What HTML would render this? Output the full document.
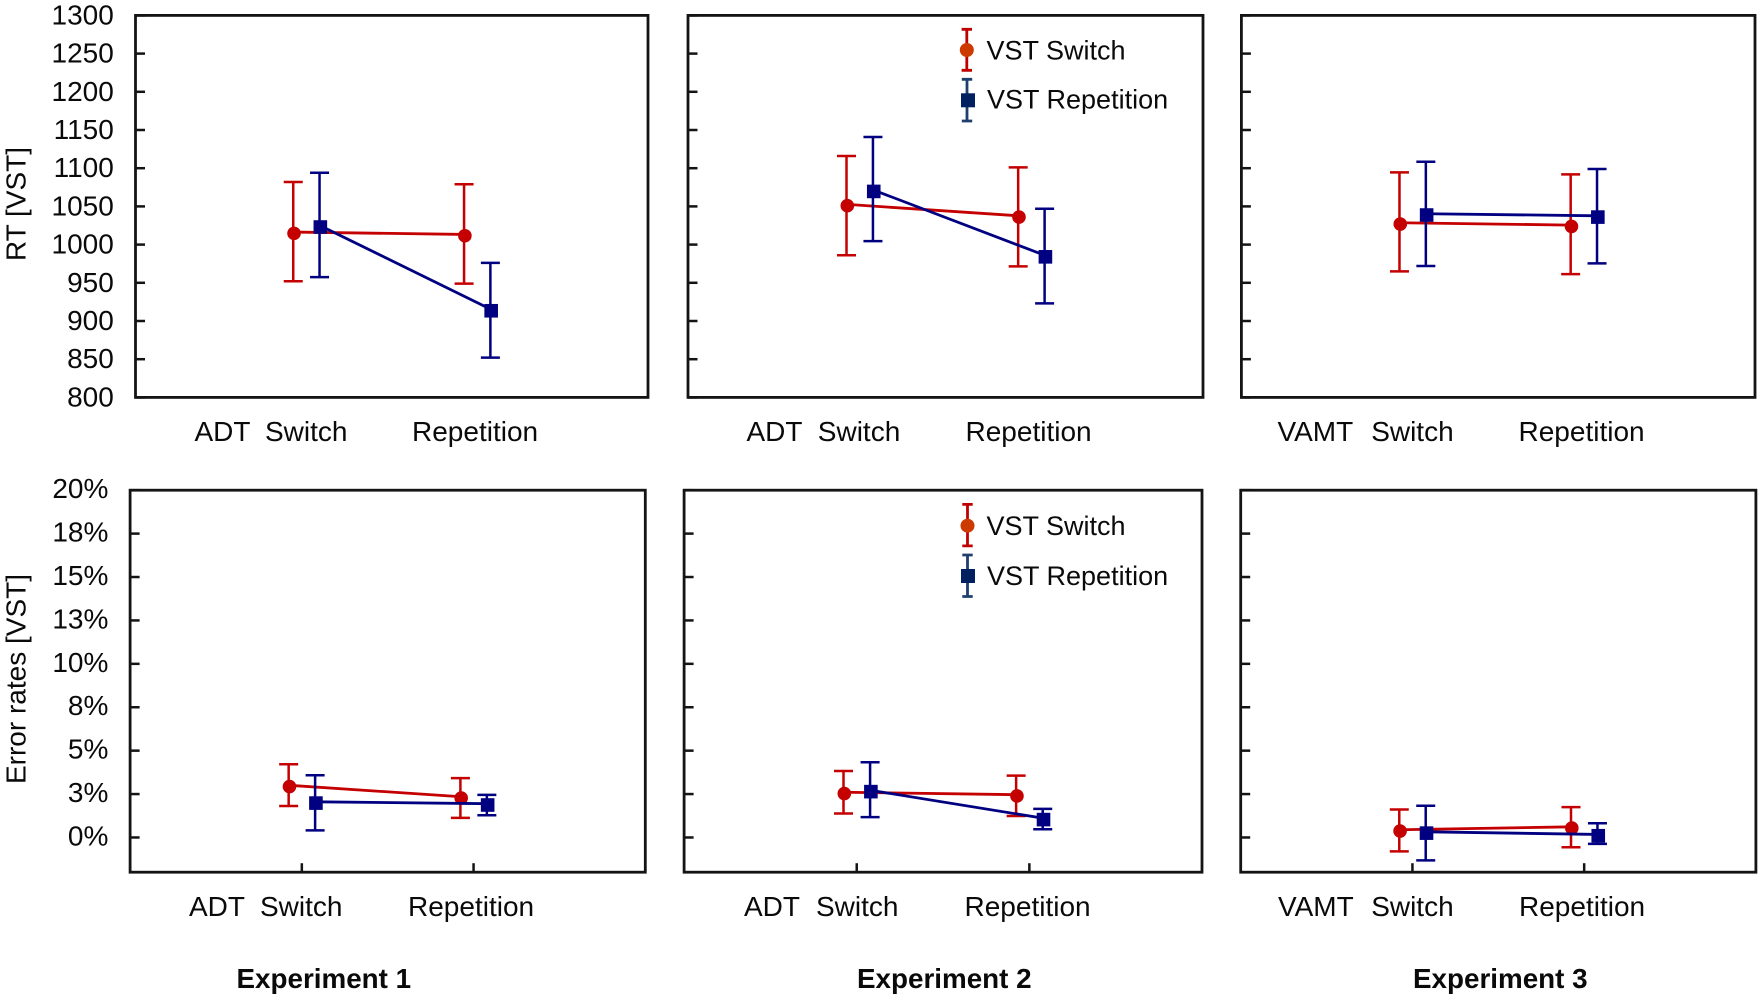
<!DOCTYPE html>
<html lang="en">
<head>
<meta charset="utf-8">
<title>VST response times and error rates by experiment</title>
<style>
html,body{margin:0;padding:0;background:#fff;}
svg{display:block;}
text{font-family:"Liberation Sans",sans-serif;font-size:28px;fill:#0a0a0a;}
.bold{font-weight:bold;font-size:27.8px;}
.legend-text{font-size:27px;}
.frame{fill:none;stroke:#141414;stroke-width:2.8;}
</style>
</head>
<body>
<svg id="figure" xmlns="http://www.w3.org/2000/svg" width="1761" height="999" viewBox="0 0 1761 999">
  <rect x="0" y="0" width="1761" height="999" fill="#fff"/>

  <g id="panel-0"><rect class="frame" x="135.5" y="15.4" width="512.5" height="382"/></g>
  <g id="panel-1"><rect class="frame" x="688" y="15.4" width="515" height="382"/></g>
  <g id="panel-2"><rect class="frame" x="1241.4" y="15.4" width="513.6" height="382"/></g>
  <g id="panel-3"><rect class="frame" x="130.1" y="490.2" width="515.2" height="382"/></g>
  <g id="panel-4"><rect class="frame" x="684.1" y="490.2" width="517.9" height="382"/></g>
  <g id="panel-5"><rect class="frame" x="1240.7" y="490.2" width="515.2" height="382"/></g>

  <text transform="translate(25.5 204) rotate(-90)" text-anchor="middle">RT [VST]</text>
  <text transform="translate(25.5 679) rotate(-90)" text-anchor="middle">Error rates [VST]</text>

  <g>
    <text x="194.5" y="441">ADT</text>
    <text x="265" y="441">Switch</text>
    <text x="412" y="441">Repetition</text>
  </g>
  <g>
    <text x="746.5" y="441">ADT</text>
    <text x="817.8" y="441">Switch</text>
    <text x="965.5" y="441">Repetition</text>
  </g>
  <g>
    <text x="1277.5" y="441">VAMT</text>
    <text x="1371.2" y="441">Switch</text>
    <text x="1518.5" y="441">Repetition</text>
  </g>
  <g>
    <text x="189" y="916">ADT</text>
    <text x="260" y="916">Switch</text>
    <text x="408" y="916">Repetition</text>
  </g>
  <g>
    <text x="744" y="916">ADT</text>
    <text x="816" y="916">Switch</text>
    <text x="964.5" y="916">Repetition</text>
  </g>
  <g>
    <text x="1278" y="916">VAMT</text>
    <text x="1371.2" y="916">Switch</text>
    <text x="1519" y="916">Repetition</text>
  </g>

  <text class="bold" x="236.5" y="988">Experiment 1</text>
  <text class="bold" x="857" y="988">Experiment 2</text>
  <text class="bold" x="1413" y="988">Experiment 3</text>

  <g>
    <g fill="none" stroke="#c00000" stroke-width="2.8">
      <path d="M966.8 29.3V70.3M961.6 29.3H972M961.6 70.3H972"/>
      <circle cx="966.8" cy="50" r="7" fill="#cc3a00" stroke="none"/>
      <text class="legend-text" x="986.5" y="59.5" stroke="none">VST Switch</text>
    </g>
    <g fill="none" stroke="#1f3f6f" stroke-width="2.8">
      <path d="M967 79.3V121M961.8 79.3H972.2M961.8 121H972.2"/>
      <rect x="961" y="93.3" width="14" height="14" fill="#002060" stroke="none"/>
      <text class="legend-text" x="987" y="108.7" stroke="none">VST Repetition</text>
    </g>
  </g>
  <g>
    <g fill="none" stroke="#c00000" stroke-width="2.8">
      <path d="M967.5 504.4V545.9M962.3 504.4H972.7M962.3 545.9H972.7"/>
      <circle cx="967.5" cy="525.7" r="7" fill="#cc3a00" stroke="none"/>
      <text class="legend-text" x="986.5" y="535" stroke="none">VST Switch</text>
    </g>
    <g fill="none" stroke="#1f3f6f" stroke-width="2.8">
      <path d="M967.5 555V596.5M962.3 555H972.7M962.3 596.5H972.7"/>
      <rect x="961" y="569" width="14" height="14" fill="#002060" stroke="none"/>
      <text class="legend-text" x="987" y="585" stroke="none">VST Repetition</text>
    </g>
  </g>
</svg>

<script>
// Tick values and printed labels
const rtTicks = [800, 850, 900, 950, 1000, 1050, 1100, 1150, 1200, 1250, 1300];
const rtTickLabels = ['800', '850', '900', '950', '1000', '1050', '1100', '1150', '1200', '1250', '1300'];
const errorTicks = [0, 2.5, 5, 7.5, 10, 12.5, 15, 17.5, 20];
const errorTickLabels = ['0%', '3%', '5%', '8%', '10%', '13%', '15%', '18%', '20%'];
const categories = ['Switch', 'Repetition'];

// RT, Experiment 1
const rt1SwitchMean = [1014.7, 1011.6];
const rt1SwitchHigh = [1082, 1079];
const rt1SwitchLow = [952, 949];
const rt1RepMean = [1023, 913.4];
const rt1RepHigh = [1094, 976];
const rt1RepLow = [957.5, 852];

// RT, Experiment 2
const rt2SwitchMean = [1050.9, 1036];
const rt2SwitchHigh = [1116, 1101];
const rt2SwitchLow = [986, 971.5];
const rt2RepMean = [1069.6, 984];
const rt2RepHigh = [1140.8, 1047];
const rt2RepLow = [1004.6, 923];

// RT, Experiment 3
const rt3SwitchMean = [1026.9, 1023.8];
const rt3SwitchHigh = [1094.5, 1091.9];
const rt3SwitchLow = [965, 961.4];
const rt3RepMean = [1038.7, 1036];
const rt3RepHigh = [1108.5, 1098.9];
const rt3RepLow = [972, 975.4];

// Error rates, Experiment 1
const err1SwitchMean = [2.93, 2.27];
const err1SwitchHigh = [4.22, 3.42];
const err1SwitchLow = [1.81, 1.13];
const err1RepMean = [1.98, 1.87];
const err1RepHigh = [3.58, 2.45];
const err1RepLow = [0.41, 1.28];

// Error rates, Experiment 2
const err2SwitchMean = [2.53, 2.39];
const err2SwitchHigh = [3.83, 3.56];
const err2SwitchLow = [1.38, 1.24];
const err2RepMean = [2.64, 1.03];
const err2RepHigh = [4.33, 1.65];
const err2RepLow = [1.17, 0.47];

// Error rates, Experiment 3
const err3SwitchMean = [0.37, 0.54];
const err3SwitchHigh = [1.61, 1.75];
const err3SwitchLow = [-0.80, -0.56];
const err3RepMean = [0.25, 0.10];
const err3RepHigh = [1.83, 0.82];
const err3RepLow = [-1.32, -0.37];

const SVG_NS = 'http://www.w3.org/2000/svg';
const RED = '#c40000';
const BLUE = '#000080';
const DODGE_SWITCH = -0.072;
const DODGE_REP = 0.082;

const rows = {
  rt: { top: 15.4, height: 382, min: 800, max: 1300, ticks: rtTicks, labels: rtTickLabels, xTicks: false, labelDy: 9 },
  err: { top: 490.2, height: 382, min: -2, max: 20, ticks: errorTicks, labels: errorTickLabels, xTicks: true, labelDy: 8 }
};

const panels = [
  { row: rows.rt, left: 135.5, width: 512.5, tickLabelRight: 113.8,
    sw: [rt1SwitchMean, rt1SwitchHigh, rt1SwitchLow], rep: [rt1RepMean, rt1RepHigh, rt1RepLow] },
  { row: rows.rt, left: 688, width: 515, tickLabelRight: null,
    sw: [rt2SwitchMean, rt2SwitchHigh, rt2SwitchLow], rep: [rt2RepMean, rt2RepHigh, rt2RepLow] },
  { row: rows.rt, left: 1241.4, width: 513.6, tickLabelRight: null,
    sw: [rt3SwitchMean, rt3SwitchHigh, rt3SwitchLow], rep: [rt3RepMean, rt3RepHigh, rt3RepLow] },
  { row: rows.err, left: 130.1, width: 515.2, tickLabelRight: 108.4,
    sw: [err1SwitchMean, err1SwitchHigh, err1SwitchLow], rep: [err1RepMean, err1RepHigh, err1RepLow] },
  { row: rows.err, left: 684.1, width: 517.9, tickLabelRight: null,
    sw: [err2SwitchMean, err2SwitchHigh, err2SwitchLow], rep: [err2RepMean, err2RepHigh, err2RepLow] },
  { row: rows.err, left: 1240.7, width: 515.2, tickLabelRight: null,
    sw: [err3SwitchMean, err3SwitchHigh, err3SwitchLow], rep: [err3RepMean, err3RepHigh, err3RepLow] }
];

function make(tag, attrs, parent) {
  const node = document.createElementNS(SVG_NS, tag);
  for (const key in attrs) node.setAttribute(key, attrs[key]);
  parent.appendChild(node);
  return node;
}
function yScale(row, value) {
  return row.top + row.height - (value - row.min) / (row.max - row.min) * row.height;
}
// Categories sit at 1 and 2 on a 0..3 axis
function xScale(panel, position) {
  return panel.left + (position + 1) / 3 * panel.width;
}

function drawAxes(panel, group) {
  const row = panel.row;
  row.ticks.forEach(function (value, i) {
    const y = yScale(row, value);
    const tick = make('line', { x1: panel.left, x2: panel.left + 9.5, y1: y, y2: y, stroke: '#141414', 'stroke-width': 2.5 }, group);
    
    
    if (panel.tickLabelRight !== null) {
      const label = make('text', { x: panel.tickLabelRight, y: y + row.labelDy, 'text-anchor': 'end' }, group);
      label.textContent = row.labels[i];
      
      
    }
  });
  if (row.xTicks) {
    categories.forEach(function (name, i) {
      const x = xScale(panel, i);
      const bottom = row.top + row.height;
      const tick = make('line', { x1: x, x2: x, y1: bottom, y2: bottom - 9, stroke: '#141414', 'stroke-width': 2.5 }, group);
      
      
    });
  }
}

function drawSeries(panel, group, values, dodge, colour, shape, seriesName) {
  const row = panel.row;
  const means = values[0], highs = values[1], lows = values[2];
  const series = make('g', {}, group);
  
  

  categories.forEach(function (name, i) {
    const x = xScale(panel, i + dodge) - 0.8;
    const yHigh = yScale(row, highs[i]);
    const yLow = yScale(row, lows[i]);
    const bar = make('path', {
      d: 'M' + x + ' ' + yHigh + 'V' + yLow +
         'M' + (x - 9.5) + ' ' + yHigh + 'H' + (x + 9.5) +
         'M' + (x - 9.5) + ' ' + yLow + 'H' + (x + 9.5),
      fill: 'none', stroke: colour, 'stroke-width': 2.5
    }, series);
    
    
  });

  const points = means.map(function (m, i) {
    return xScale(panel, i + dodge) + ',' + (yScale(row, m) - 1.3);
  }).join(' ');
  const line = make('polyline', { points: points, fill: 'none', stroke: colour, 'stroke-width': 2.8 }, series);
  
  

  categories.forEach(function (name, i) {
    const x = xScale(panel, i + dodge);
    const y = yScale(row, means[i]);
    let marker;
    if (shape === 'circle') {
      marker = make('circle', { cx: x, cy: y, r: 6.8, fill: colour }, series);
    } else {
      marker = make('rect', { x: x - 6.8, y: y - 6.8, width: 13.6, height: 13.6, fill: colour }, series);
    }
    
    
  });
}

panels.forEach(function (panel, i) {
  const group = document.getElementById('panel-' + i);
  drawAxes(panel, group);
  drawSeries(panel, group, panel.sw, DODGE_SWITCH, RED, 'circle', 'vst-switch');
  drawSeries(panel, group, panel.rep, DODGE_REP, BLUE, 'square', 'vst-repetition');
});
</script>
</body>
</html>
